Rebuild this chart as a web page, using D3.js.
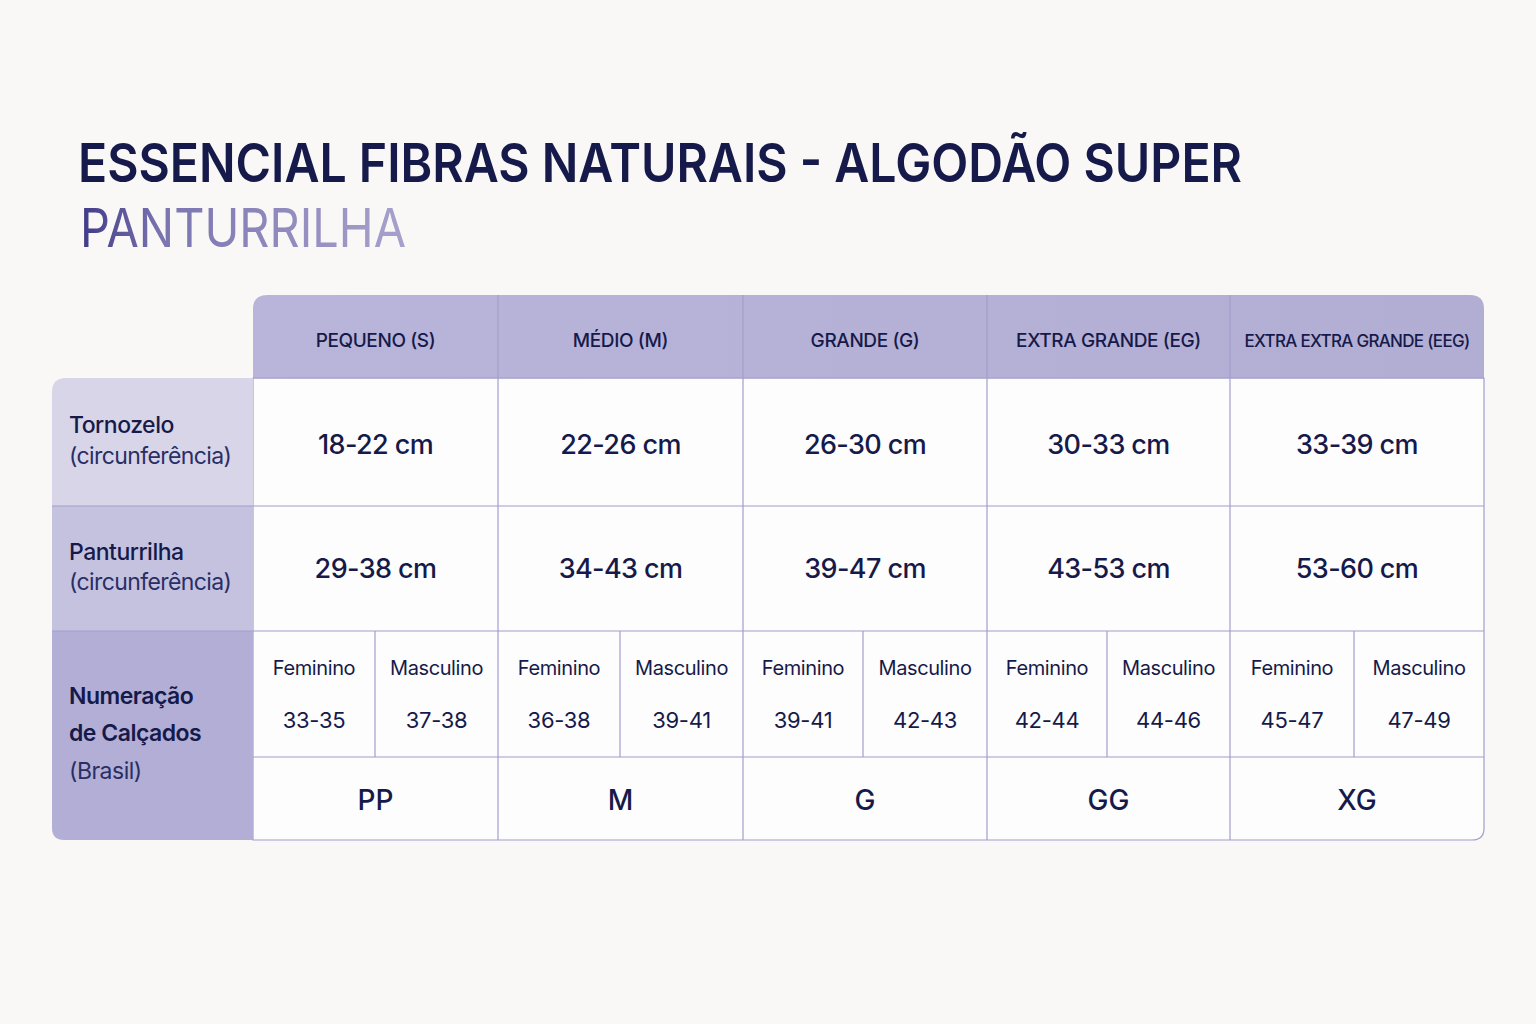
<!DOCTYPE html>
<html><head><meta charset="utf-8">
<script src="https://cdn.jsdelivr.net/npm/d3@7"></script>
<style>body{margin:0;background:#f9f8f6;}</style>
</head><body>
<svg id="c" width="1536" height="1024"></svg>
<script>
const sizes = ["PEQUENO (S)","MÉDIO (M)","GRANDE (G)","EXTRA GRANDE (EG)","EXTRA EXTRA GRANDE (EEG)"];
const tornozelo = ["18-22 cm","22-26 cm","26-30 cm","30-33 cm","33-39 cm"];
const panturrilha = ["29-38 cm","34-43 cm","39-47 cm","43-53 cm","53-60 cm"];
const feminino = ["33-35","36-38","39-41","42-44","45-47"];
const masculino = ["37-38","39-41","42-43","44-46","47-49"];
const letras = ["PP","M","G","GG","XG"];
const colEdges = [253,498,743,987,1230,1484];
const subSplit = [375,620,863,1107,1354];

const svg = d3.select("#c");
const F = "Inter, 'Noto Sans', sans-serif";
const dark = "#161a4a", line = "#a29ecb";
const defs = svg.append("defs");
const g1 = defs.append("linearGradient").attr("id","tg");
g1.append("stop").attr("offset","0").attr("stop-color","#3f3a86");
g1.append("stop").attr("offset","0.25").attr("stop-color","#7a74b0");
g1.append("stop").attr("offset","1").attr("stop-color","#a7a2cc");
const g2 = defs.append("linearGradient").attr("id","hg");
g2.append("stop").attr("offset","0").attr("stop-color","#b9b5da");
g2.append("stop").attr("offset","1").attr("stop-color","#b1add3");

svg.append("text").attr("x",78).attr("y",182).attr("font-family",F).attr("font-size",54).attr("font-weight",600)
 .attr("fill",dark).attr("textLength",1164).attr("lengthAdjust","spacingAndGlyphs").text("ESSENCIAL FIBRAS NATURAIS - ALGODÃO SUPER");
svg.append("text").attr("x",80).attr("y",247).attr("font-family",F).attr("font-size",54).attr("font-weight",400)
 .attr("fill","url(#tg)").attr("textLength",326).attr("lengthAdjust","spacingAndGlyphs").text("PANTURRILHA");

const x = d3.scaleOrdinal().domain(d3.range(5)).range(colEdges.slice(0,5));
const w = i => colEdges[i+1]-colEdges[i];

svg.append("path").attr("fill","#fdfdfd").attr("stroke",line).attr("stroke-width",1.2)
 .attr("d",`M253,378 H1484 V828 Q1484,840 1472,840 H253 Z`);
svg.append("path").attr("fill","url(#hg)").attr("d",`M253,378 V309 Q253,295 267,295 H1470 Q1484,295 1484,309 V378 Z`);
const leftCols=["#d8d5e8","#c5c2e0","#b2aed5"];
svg.append("path").attr("fill",leftCols[0]).attr("d",`M253,378 H66 Q52,378 52,392 V506 H253 Z`);
svg.append("rect").attr("x",52).attr("y",506).attr("width",201).attr("height",125).attr("fill",leftCols[1]);
svg.append("path").attr("fill",leftCols[2]).attr("d",`M52,631 H253 V840 H64 Q52,840 52,828 Z`);

colEdges.slice(1,5).forEach(cx=>svg.append("line").attr("x1",cx).attr("x2",cx).attr("y1",295).attr("y2",840).attr("stroke",line).attr("stroke-width",1.2));
[506,631].forEach(y=>svg.append("line").attr("x1",52).attr("x2",1484).attr("y1",y).attr("y2",y).attr("stroke",line).attr("stroke-width",1.2));
svg.append("line").attr("x1",253).attr("x2",1484).attr("y1",757).attr("y2",757).attr("stroke",line).attr("stroke-width",1.2);
svg.append("line").attr("x1",253).attr("x2",1484).attr("y1",378).attr("y2",378).attr("stroke",line).attr("stroke-width",1.2);
subSplit.forEach(sx=>svg.append("line").attr("x1",sx).attr("x2",sx).attr("y1",631).attr("y2",757).attr("stroke",line).attr("stroke-width",1.2));

const T=(x,y,s,size,weight,anchor="middle",fill=dark)=>svg.append("text").attr("x",x).attr("y",y).attr("font-family",F)
 .attr("font-size",size).attr("font-weight",weight).attr("text-anchor",anchor).attr("fill",fill).text(s);

sizes.forEach((s,i)=>T(x(i)+w(i)/2,347,s,i==4?17:19,500).attr("letter-spacing",i==4?-0.7:-0.4));
tornozelo.forEach((s,i)=>T(x(i)+w(i)/2,454,s,27,500).attr("letter-spacing",-0.6));
panturrilha.forEach((s,i)=>T(x(i)+w(i)/2,578,s,27,500).attr("letter-spacing",-0.6));
feminino.forEach((s,i)=>{
  const l=colEdges[i], m=subSplit[i], r=colEdges[i+1];
  T((l+m)/2,675,"Feminino",20,400).attr("letter-spacing",-0.4);
  T((m+r)/2,675,"Masculino",20,400).attr("letter-spacing",-0.4);
  T((l+m)/2,728,s,22,400).attr("letter-spacing",-0.3);
  T((m+r)/2,728,masculino[i],22,400).attr("letter-spacing",-0.3);
});
letras.forEach((s,i)=>T(x(i)+w(i)/2,810,s,28,500));

T(69,433,"Tornozelo",23,500,"start").attr("letter-spacing",-0.5);
T(69,464,"(circunferência)",23,400,"start","#2a2e66").attr("letter-spacing",-0.6);
T(69,560,"Panturrilha",23,500,"start").attr("letter-spacing",-0.5);
T(69,590,"(circunferência)",23,400,"start","#2a2e66").attr("letter-spacing",-0.6);
T(69,704,"Numeração",23,600,"start").attr("letter-spacing",-0.5);
T(69,741,"de Calçados",23,600,"start").attr("letter-spacing",-0.5);
T(69,779,"(Brasil)",23,400,"start","#2a2e66").attr("letter-spacing",-0.5);
</script>
</body></html>
